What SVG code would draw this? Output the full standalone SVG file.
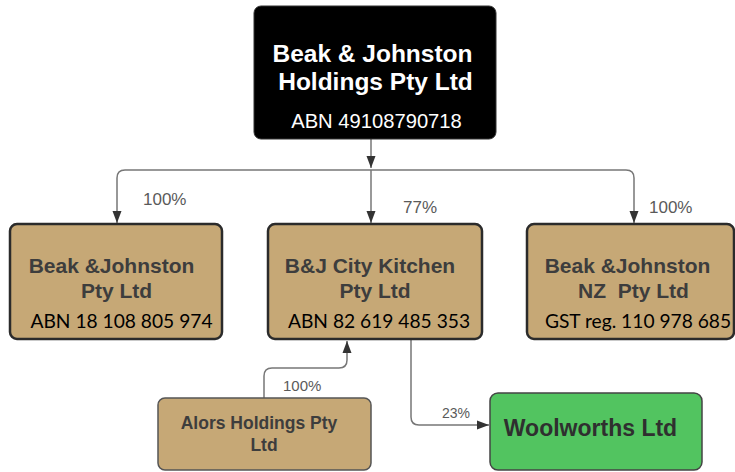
<svg xmlns="http://www.w3.org/2000/svg" width="735" height="472" viewBox="0 0 735 472">
<style>
.tan{fill:#c6a876;stroke:#2b2b2b;stroke-width:2.5}
.title{font-family:"Liberation Sans",Arial,sans-serif;font-weight:bold;fill:#3d3d3d;text-anchor:middle}
.abn{font-family:Lato,"Liberation Sans",sans-serif;font-size:19.2px;fill:#000;text-anchor:middle}
.pct{font-family:"Liberation Sans",Arial,sans-serif;fill:#5a5a5a}
.conn{fill:none;stroke:#777;stroke-width:1.5}
</style>
<defs>
<marker id="arr" markerUnits="userSpaceOnUse" markerWidth="12" markerHeight="12" viewBox="0 0 12 12" refX="12" refY="6" orient="auto">
<path d="M0,1.5 L12,6 L0,10.5 Z" fill="#333"/>
</marker>
</defs>
<rect width="735" height="472" fill="#fff"/>
<g id="connectors">
<path class="conn" d="M371 139 V168" marker-end="url(#arr)"/>
<path class="conn" d="M371 170 H125 Q117 170 117 178 V223" marker-end="url(#arr)"/>
<path class="conn" d="M371 170 V223" marker-end="url(#arr)"/>
<path class="conn" d="M371 170 H626 Q634 170 634 178 V223" marker-end="url(#arr)"/>
<path class="conn" d="M264 398 V376 Q264 368 272 368 H339 Q347 368 347 360 V341" marker-end="url(#arr)"/>
<path class="conn" d="M411 340 V417 Q411 425 419 425 H489" marker-end="url(#arr)"/>
<text class="pct" x="143" y="205" font-size="17">100%</text>
<text class="pct" x="403" y="213" font-size="17">77%</text>
<text class="pct" x="649" y="213" font-size="17">100%</text>
<text class="pct" x="283" y="391" font-size="15">100%</text>
<text class="pct" x="442" y="418" font-size="14">23%</text>
</g>
<g id="holdings">
<rect x="254" y="6" width="242" height="133" rx="7" fill="#000" stroke="#333" stroke-width="1"/>
<text class="title" x="372.5" y="62" font-size="24.5" style="fill:#fff">Beak &amp; Johnston</text>
<text class="title" x="375.5" y="90" font-size="24.5" style="fill:#fff">Holdings Pty Ltd</text>
<text x="376.5" y="128" font-family="Liberation Sans, Arial, sans-serif" font-size="20.2" fill="#fff" text-anchor="middle">ABN 49108790718</text>
</g>
<g id="bj-pty">
<rect class="tan" x="10" y="224" width="212" height="115" rx="7"/>
<text class="title" x="111.5" y="273" font-size="21">Beak &amp;Johnston</text>
<text class="title" x="116.5" y="298" font-size="21">Pty Ltd</text>
<text class="abn" x="121.5" y="328">ABN 18 108 805 974</text>
</g>
<g id="city-kitchen">
<rect class="tan" x="268" y="224" width="214" height="115" rx="7"/>
<text class="title" x="370" y="273" font-size="21">B&amp;J City Kitchen</text>
<text class="title" x="375" y="298" font-size="21">Pty Ltd</text>
<text class="abn" x="379" y="328">ABN 82 619 485 353</text>
</g>
<g id="bj-nz">
<rect class="tan" x="527" y="224" width="207" height="115" rx="7"/>
<text class="title" x="627.5" y="273" font-size="21">Beak &amp;Johnston</text>
<text class="title" x="633.5" y="298" font-size="21" xml:space="preserve">NZ  Pty Ltd</text>
<text class="abn" x="638" y="328">GST reg. 110 978 685</text>
</g>
<g id="alors">
<rect class="tan" x="158" y="398" width="213" height="72" rx="7" style="stroke:#555;stroke-width:1.5"/>
<text class="title" x="259" y="429" font-size="17.5">Alors Holdings Pty</text>
<text class="title" x="264" y="451" font-size="17.5">Ltd</text>
</g>
<g id="woolworths">
<rect x="490" y="393" width="212" height="77" rx="8" fill="#52c460" stroke="#444" stroke-width="1.5"/>
<text class="title" x="590.5" y="436" font-size="23" style="fill:#2f2f2f">Woolworths Ltd</text>
</g>
</svg>
